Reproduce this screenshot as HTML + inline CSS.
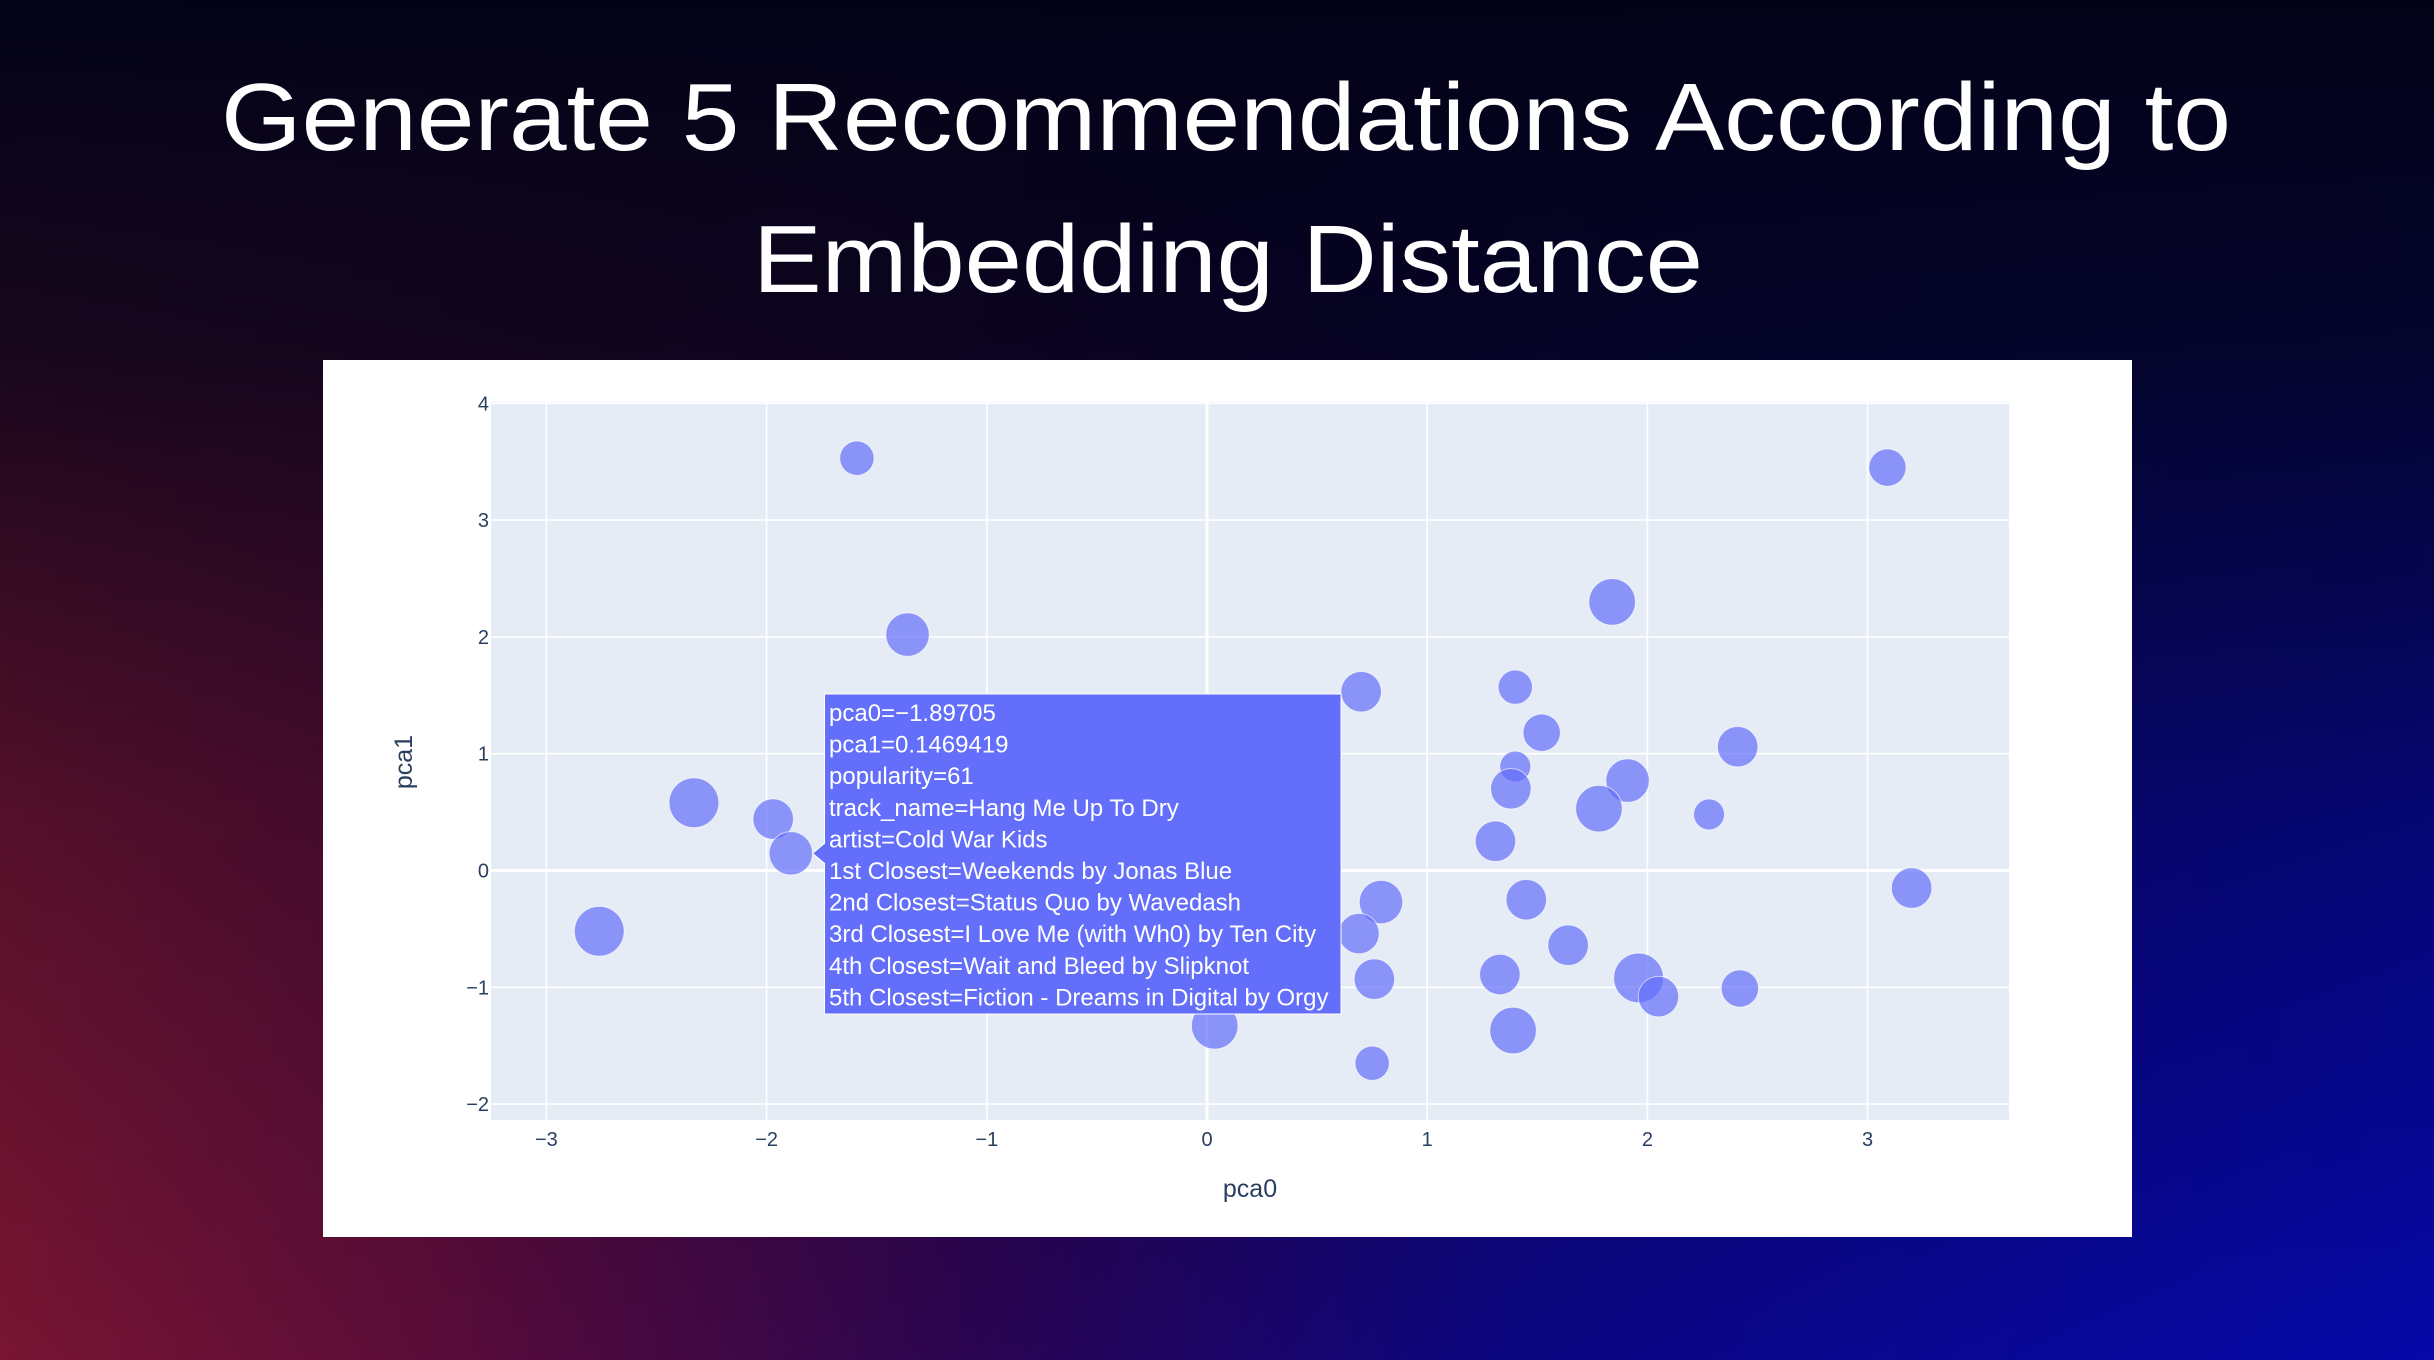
<!DOCTYPE html>
<html><head><meta charset="utf-8"><style>
html,body{margin:0;padding:0;width:2434px;height:1360px;overflow:hidden}
body{background:#03031c;position:relative;font-family:"Liberation Sans",sans-serif}
#bg{position:absolute;inset:0;background:
linear-gradient(to bottom,rgba(3,3,24,1) 0%,rgba(3,3,24,0.85) 25%,rgba(3,3,24,0.35) 60%,rgba(3,3,24,0) 100%),
linear-gradient(100deg,#8a1a30 0%,#5a0c38 25%,#2a0450 45%,#0c0680 65%,#0608a8 100%)}
svg{position:absolute;left:0;top:0}
</style></head><body>
<div id="bg"></div>
<svg id="s" width="2434" height="1360" xmlns="http://www.w3.org/2000/svg">
<text x="1226" y="150" fill="#fff" font-size="96" text-anchor="middle" textLength="2010" lengthAdjust="spacingAndGlyphs" font-family="Liberation Sans, sans-serif">Generate 5 Recommendations According to</text>
<text x="1228" y="292" fill="#fff" font-size="96" text-anchor="middle" textLength="950" lengthAdjust="spacingAndGlyphs" font-family="Liberation Sans, sans-serif">Embedding Distance</text>
<rect x="323" y="360" width="1809" height="877" fill="#fff"/>
<rect x="491" y="402" width="1518" height="718" fill="#e5ecf6"/>
<g id="grid"></g><g id="ticks"></g><g id="marks"></g><g id="tip"></g>
<text x="1250" y="1197" font-size="25" fill="#2a3f5f" text-anchor="middle">pca0</text>
<text x="0" y="0" font-size="25" fill="#2a3f5f" text-anchor="middle" transform="translate(412,762) rotate(-90)">pca1</text>
</svg>
<script>
const xTicks=[-3,-2,-1,0,1,2,3];
const yTicks=[-2,-1,0,1,2,3,4];
const pca0=[-1.59,-1.36,-2.33,-1.97,-1.89,-2.76,0.035,3.09,1.84,0.70,1.40,1.52,2.41,1.40,1.38,1.91,1.78,2.28,1.31,0.79,0.69,1.45,1.64,0.76,1.33,1.96,2.05,2.42,1.39,0.75,3.20];
const pca1=[3.53,2.02,0.58,0.44,0.147,-0.52,-1.33,3.45,2.30,1.53,1.57,1.18,1.06,0.89,0.70,0.77,0.53,0.48,0.25,-0.27,-0.54,-0.25,-0.64,-0.93,-0.89,-0.92,-1.08,-1.01,-1.37,-1.65,-0.15];
const popularity=[38,61,80,53,61,80,70,45,70,53,38,45,53,31,53,61,70,31,53,61,53,53,53,53,53,80,53,45,70,38,53];
const X=v=>1207+v*220.2, Y=v=>870.5-v*116.8;
const NS="http://www.w3.org/2000/svg";
function mk(t,a,p){const e=document.createElementNS(NS,t);for(const k in a)e.setAttribute(k,a[k]);p.appendChild(e);return e;}
const g=document.getElementById('grid'),tk=document.getElementById('ticks'),m=document.getElementById('marks'),tp=document.getElementById('tip');
xTicks.forEach(v=>{const l=mk('line',{x1:X(v),x2:X(v),y1:402,y2:1120,stroke:'#fff','stroke-width':v===0?3:1.6},g);


const t=mk('text',{x:X(v),y:1146,'font-size':20,fill:'#2a3f5f','text-anchor':'middle'},tk);t.textContent=v<0?'\u2212'+(-v):v;

});
yTicks.forEach(v=>{const l=mk('line',{x1:491,x2:2009,y1:Y(v),y2:Y(v),stroke:'#fff','stroke-width':v===0?3:1.6},g);


const t=mk('text',{x:489,y:Y(v)+7,'font-size':20,fill:'#2a3f5f','text-anchor':'end'},tk);t.textContent=v<0?'\u2212'+(-v):v;

});
pca0.forEach((v,i)=>{const c=mk('circle',{cx:X(v),cy:Y(pca1[i]),r:Math.sqrt(popularity[i])*2.78,fill:'#636efa','fill-opacity':0.7,stroke:'#fff','stroke-width':1,'stroke-opacity':0.6},m);

});
const px=X(pca0[4])+Math.sqrt(popularity[4])*2.78, py=Y(pca1[4]);
const tipBg=mk('path',{d:`M${px} ${py} L${px+12} ${py-10} L${px+12} 694 L1341 694 L1341 1014 L${px+12} 1014 L${px+12} ${py+10} Z`,fill:'#636efa',stroke:'#fff','stroke-width':1},tp);


const lines=['pca0=\u22121.89705','pca1=0.1469419','popularity=61','track_name=Hang Me Up To Dry','artist=Cold War Kids','1st Closest=Weekends by Jonas Blue','2nd Closest=Status Quo by Wavedash','3rd Closest=I Love Me (with Wh0) by Ten City','4th Closest=Wait and Bleed by Slipknot','5th Closest=Fiction - Dreams in Digital by Orgy'];
lines.forEach((s,i)=>{const t=mk('text',{x:829,y:721+i*31.6,'font-size':24,fill:'#fff'},tp);t.textContent=s;

});
</script>
</body></html>
